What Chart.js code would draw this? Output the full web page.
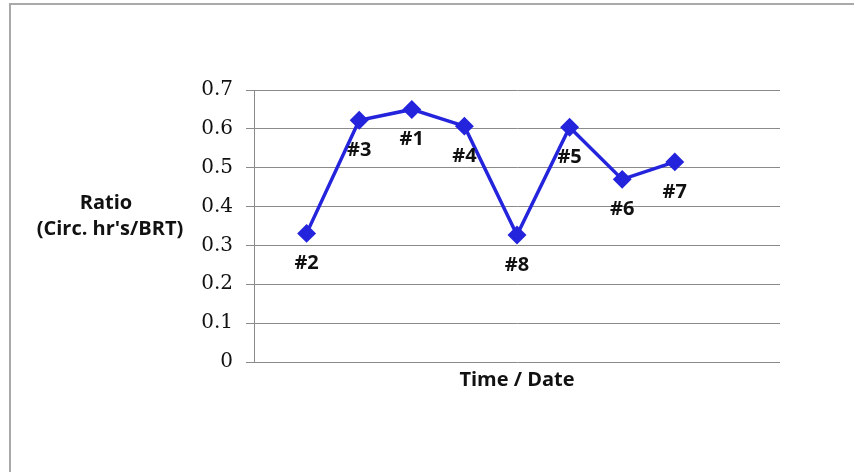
<!DOCTYPE html>
<html>
<head>
<meta charset="utf-8">
<script src="https://cdn.jsdelivr.net/npm/chart.js@4"></script>
<style>
  html, body { margin: 0; padding: 0; background: #fff; }
  #wrap { width: 854px; height: 472px; }
</style>
</head>
<body>
<div id="wrap"><canvas id="ratioChart" width="854" height="472"></canvas></div>
<script>
// point names in the order they appear along the time axis
const pointNames = ["#2", "#3", "#1", "#4", "#8", "#5", "#6", "#7"];
const ratioValues = [0.331, 0.622, 0.65, 0.607, 0.327, 0.604, 0.47, 0.515];
const yTicks = [0, 0.1, 0.2, 0.3, 0.4, 0.5, 0.6, 0.7];
const yTitle = ["Ratio", "(Circ. hr's/BRT)"];
const xTitle = "Time / Date";

// Excel-style axis: one empty slot before the points and two after
const labels = ["", ...pointNames, "", ""];
const values = [null, ...ratioValues, null, null];

const titleFont = "bold 20px 'Open Sans'";

const extras = {
  id: "extras",
  beforeDraw(chart) {
    const ctx = chart.ctx;
    ctx.save();
    ctx.fillStyle = "#fff";
    ctx.fillRect(0, 0, chart.width, chart.height);
    // frame: top and left edges only
    ctx.strokeStyle = "#a9a9a9";
    ctx.lineWidth = 2;
    ctx.beginPath();
    ctx.moveTo(10, chart.height);
    ctx.lineTo(10, 4);
    ctx.lineTo(chart.width, 4);
    ctx.stroke();
    ctx.restore();
  },
  afterDraw(chart) {
    const ctx = chart.ctx;
    const area = chart.chartArea;
    ctx.save();
    ctx.fillStyle = "#111";
    ctx.font = titleFont;
    ctx.textAlign = "center";
    ctx.textBaseline = "middle";

    // axis titles, horizontal
    ctx.fillText(yTitle[0], 106, 203);
    ctx.fillText(yTitle[1], 110, 229);
    ctx.fillText(xTitle, (area.left + area.right) / 2, area.bottom + 18);

    // point names under each marker
    const meta = chart.getDatasetMeta(0);
    meta.data.forEach((pt, i) => {
      if (values[i] == null) return;
      ctx.fillText(labels[i], pt.x, pt.y + 30);
    });
    ctx.restore();
  }
};

new Chart(document.getElementById("ratioChart"), {
  type: "line",
  data: {
    labels: labels,
    datasets: [{
      data: values,
      borderColor: "#2424dc",
      backgroundColor: "#2424dc",
      borderWidth: 3.5,
      pointStyle: "rectRot",
      pointRadius: 7,
      pointHoverRadius: 7,
      tension: 0,
      spanGaps: false
    }]
  },
  options: {
    responsive: false,
    animation: false,
    events: [],
    layout: { padding: { top: 90, right: 74, bottom: 110, left: 0 } },
    plugins: {
      legend: { display: false },
      tooltip: { enabled: false }
    },
    scales: {
      x: {
        display: false,
        offset: false
      },
      y: {
        min: 0,
        max: 0.7,
        afterFit(scale) { scale.width = 254; },
        afterBuildTicks(scale) { scale.ticks = yTicks.map(v => ({ value: v })); },
        ticks: {
          padding: 13,
          color: "#111",
          font: { family: "'DejaVu Serif'", size: 20 },
          callback: v => String(Math.round(v * 10) / 10)
        },
        grid: { color: "#8a8a8a", lineWidth: 1, tickLength: 8 },
        border: { color: "#8a8a8a", width: 1 }
      }
    }
  },
  plugins: [extras]
});
</script>
</body>
</html>
